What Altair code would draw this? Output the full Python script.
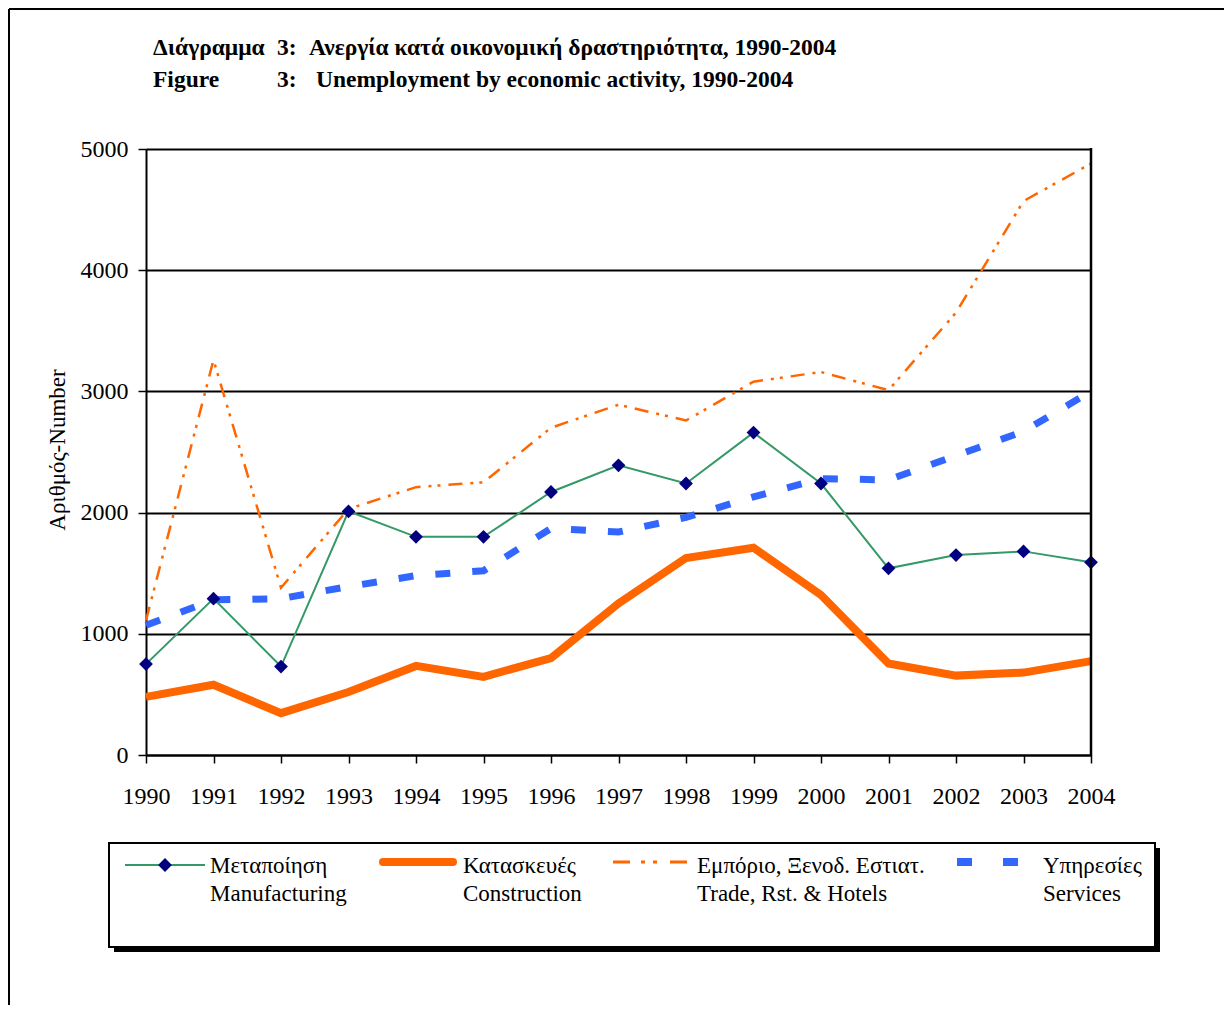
import altair as alt
import pandas as pd

# ---------------- data ----------------
years = list(range(1990, 2005))
manufacturing = [750, 1290, 730, 2010, 1800, 1800, 2170, 2390, 2240, 2660, 2240, 1540, 1650, 1680, 1590]
construction = [480, 580, 345, 520, 735, 645, 800, 1250, 1625, 1710, 1320, 755, 655, 680, 775]
trade = [1110, 3260, 1380, 2030, 2210, 2250, 2700, 2890, 2760, 3080, 3160, 3010, 3650, 4570, 4880]
services = [1070, 1280, 1290, 1390, 1480, 1520, 1870, 1840, 1960, 2130, 2280, 2270, 2470, 2670, 3000]

series_gr = ["Μεταποίηση", "Κατασκευές", "Εμπόριο, Ξενοδ. Εστιατ.", "Υπηρεσίες"]
series_en = ["Manufacturing", "Construction", "Trade, Rst. & Hotels", "Services"]
y_ticks = [0, 1000, 2000, 3000, 4000, 5000]

title_gr = ["Διάγραμμα", "3:", "Ανεργία κατά οικονομική δραστηριότητα, 1990-2004"]
title_en = ["Figure", "3:", "Unemployment by economic activity, 1990-2004"]
y_title = "Αριθμός-Number"

# ---------------- layout / style ----------------
FONT = "'Liberation Serif', 'Times New Roman', 'DejaVu Serif', serif"
W, H = 945, 606
OX, OY = 146, 149  # plot origin in page coords


def px(x):
    return x - OX


def py(y):
    return y - OY


COL_MAN = "#339966"
COL_DIAM = "#000080"
COL_CON = "#FF6600"
COL_TRD = "#FF6600"
COL_SRV = "#3366FF"

xs = alt.Scale(domain=[1990, 2004], nice=False, zero=False)
ys = alt.Scale(domain=[0, 5000], nice=False)

xenc = alt.X("year:Q", scale=xs,
             axis=alt.Axis(values=years, format="d", title=None, grid=False,
                           tickSize=8, labelPadding=21, labelFontSize=24,
                           labelFont=FONT, labelColor="black", domainColor="black",
                           domainWidth=2, tickColor="black", tickWidth=1.5,
                           labelFlush=False))
yenc = alt.Y("value:Q", scale=ys,
             axis=alt.Axis(values=y_ticks, format="d", title=None, grid=True, gridColor="black",
                           gridWidth=2, gridOpacity=1, tickSize=8, labelPadding=10,
                           labelFontSize=24, labelFont=FONT, labelColor="black",
                           domainColor="black", domainWidth=2, tickColor="black",
                           tickWidth=1.5))


def df_of(vals):
    return pd.DataFrame({"year": years, "value": vals})


con = alt.Chart(df_of(construction)).mark_line(color=COL_CON, strokeWidth=8, strokeJoin="miter").encode(x=xenc, y=yenc)
trd = alt.Chart(df_of(trade)).mark_line(color=COL_TRD, strokeWidth=2.5, strokeDash=[14, 8, 3, 6, 3, 8]).encode(x=xenc, y=yenc)
srv = alt.Chart(df_of(services)).mark_line(color=COL_SRV, strokeWidth=7, strokeDash=[15, 22]).encode(x=xenc, y=yenc)
man = alt.Chart(df_of(manufacturing)).mark_line(color=COL_MAN, strokeWidth=2).encode(x=xenc, y=yenc)
dia = alt.Chart(df_of(manufacturing)).mark_point(shape="diamond", filled=True, size=190, color=COL_DIAM, opacity=1).encode(x=xenc, y=yenc)

one = pd.DataFrame({"k": [0]})


def text(t, x, y, size, bold=False, align="left", baseline="alphabetic", angle=0):
    return alt.Chart(pd.DataFrame({"t": [t]})).mark_text(
        align=align, baseline=baseline, font=FONT, fontSize=size,
        fontWeight="bold" if bold else "normal", angle=angle, color="black"
    ).encode(x=alt.value(x), y=alt.value(y), text="t:N")


def rule(x1, y1, x2, y2, color, width, dash=None, cap="butt"):
    kw = dict(color=color, strokeWidth=width, strokeCap=cap)
    if dash:
        kw["strokeDash"] = dash
    return alt.Chart(one).mark_rule(**kw).encode(
        x=alt.value(x1), y=alt.value(y1), x2=alt.value(x2), y2=alt.value(y2))


def rect(x1, y1, x2, y2, fill, stroke=None, sw=0):
    kw = dict(fill=fill)
    if stroke:
        kw["stroke"] = stroke
        kw["strokeWidth"] = sw
    return alt.Chart(one).mark_rect(**kw).encode(
        x=alt.value(x1), y=alt.value(y1), x2=alt.value(x2), y2=alt.value(y2))


deco = []
# plot-area right border
deco.append(rule(W, -1, W, H + 1, "black", 2.5))
# outer frame (top and left edges visible)
deco.append(rule(px(9), py(9), px(1240), py(9), "black", 2))
deco.append(rule(px(9), py(9), px(9), py(1013), "black", 2))

# titles
TS = 23.5
deco.append(text(title_gr[0], px(153), py(55), TS, bold=True))
deco.append(text(title_gr[1], px(277), py(55), TS, bold=True))
deco.append(text(title_gr[2], px(309), py(55), TS, bold=True))
deco.append(text(title_en[0], px(153), py(87), TS, bold=True))
deco.append(text(title_en[1], px(277), py(87), TS, bold=True))
deco.append(text(title_en[2], px(316), py(87), TS, bold=True))

# y title
deco.append(text(y_title, px(58), py(450), 23, align="center", baseline="middle", angle=270))

# legend box with shadow
deco.append(rect(px(114), py(848), px(1160), py(952), "black"))
deco.append(rect(px(109), py(843), px(1155), py(947), "white", "black", 2))

# legend entries
LX_TEXT = [210, 463, 697, 1043]
for i in range(4):
    deco.append(text(series_gr[i], px(LX_TEXT[i]), py(873), 23))
    deco.append(text(series_en[i], px(LX_TEXT[i]), py(901), 23))

deco.append(rule(px(125), py(865), px(205), py(865), COL_MAN, 2))
deco.append(alt.Chart(one).mark_point(shape="diamond", filled=True, size=190, color=COL_DIAM, opacity=1)
            .encode(x=alt.value(px(165)), y=alt.value(py(865))))
deco.append(rule(px(383), py(862), px(453), py(862), COL_CON, 8, cap="round"))
deco.append(rule(px(613), py(862), px(688), py(862), COL_TRD, 3, dash=[17, 11, 4, 8, 4, 13]))
deco.append(rule(px(957), py(862), px(1018), py(862), COL_SRV, 8, dash=[15, 31, 15]))

chart = alt.layer(con, trd, srv, man, dia, *deco).properties(
    width=W, height=H,
    autosize=alt.AutoSizeParams(type="none"),
    padding={"left": 138, "top": 141, "right": 133, "bottom": 250},
    background="white",
).configure_view(stroke="black", strokeWidth=2).configure_axis(
    labelFont=FONT, labelFontSize=24, labelColor="black"
).configure(font=FONT)

chart.save("out.html", embed_options={"renderer": "svg", "actions": False})
